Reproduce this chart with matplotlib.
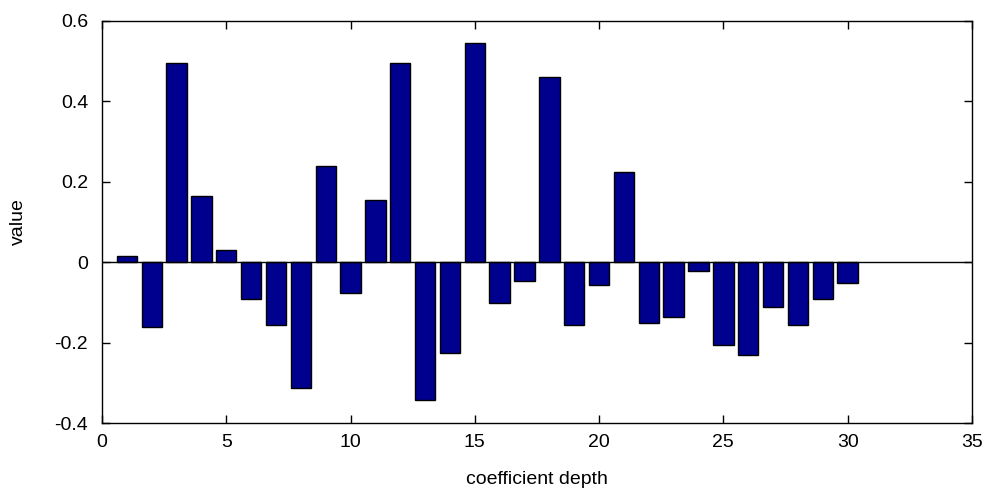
import numpy as np
import matplotlib
matplotlib.use('Agg')
import matplotlib.pyplot as plt

plt.rcParams['font.family'] = ['Liberation Sans Narrow', 'Liberation Sans', 'DejaVu Sans']

# coefficient values
depth = list(range(1, 31))
value = [0.015, -0.161, 0.496, 0.165, 0.030, -0.092, -0.156, -0.312, 0.240, -0.077,
         0.155, 0.496, -0.342, -0.226, 0.545, -0.102, -0.046, 0.460, -0.156, -0.057,
         0.225, -0.152, -0.136, -0.021, -0.206, -0.232, -0.111, -0.156, -0.092, -0.052]

xticks = [0, 5, 10, 15, 20, 25, 30, 35]
yticks = [-0.4, -0.2, 0, 0.2, 0.4, 0.6]
ytick_labels = ['-0.4', '-0.2', '0', '0.2', '0.4', '0.6']

fig = plt.figure(figsize=(9.84, 5.0), dpi=100)
ax = fig.add_axes([0.1037, 0.154, 0.884, 0.804])

ax.bar(depth, value, width=0.82, color='#00008F', edgecolor='black', linewidth=1.0, zorder=2)
ax.axhline(0, color='black', linewidth=1.0, zorder=3)

ax.set_xlim(0, 35)
ax.set_ylim(-0.4, 0.6)
ax.set_xticks(xticks)
ax.set_yticks(yticks)
ax.set_yticklabels(ytick_labels)
ax.tick_params(axis='x', direction='in', top=True, length=6, width=1, labelsize=14, pad=8)
ax.tick_params(axis='y', direction='in', right=True, length=6, width=1, labelsize=14, pad=10)
for s in ax.spines.values():
    s.set_linewidth(1.0)

ax.set_xlabel('coefficient depth', fontsize=14, labelpad=14)
ax.set_ylabel('value', fontsize=14, labelpad=20)

fig.savefig('out.png', dpi=100)
